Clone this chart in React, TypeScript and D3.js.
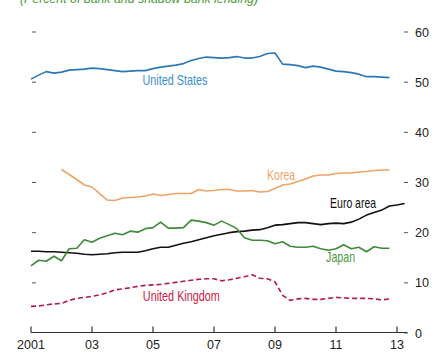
import * as d3 from "d3";

const usValues = [
  50.6, 51.4, 52.1, 51.8, 52.0, 52.4, 52.5, 52.6, 52.8, 52.7, 52.5, 52.3,
  52.1, 52.2, 52.3, 52.3, 52.7, 53.0, 53.2, 53.4, 53.7, 54.3, 54.7, 55.0,
  54.9, 54.8, 54.9, 55.1, 54.8, 54.8, 55.1, 55.7, 55.8, 53.6, 53.5, 53.3,
  52.9, 53.2, 53.0, 52.6, 52.2, 52.1, 51.9, 51.6, 51.1, 51.1, 51.0, 50.9,
];

// Korea starts in 2002Q1
const koreaValues = [
  32.6, 31.6, 30.6, 29.5, 29.1, 27.8, 26.5, 26.4, 26.9, 27.0, 27.1, 27.3,
  27.7, 27.4, 27.6, 27.8, 27.8, 27.8, 28.6, 28.3, 28.4, 28.6, 28.6, 28.3,
  28.3, 28.4, 28.1, 28.2, 28.8, 29.5, 29.7, 30.2, 30.7, 31.3, 31.5, 31.5,
  31.8, 31.9, 31.9, 32.1, 32.2, 32.4, 32.5, 32.5,
];

// Euro area runs two quarters longer
const euroValues = [
  16.3, 16.3, 16.2, 16.2, 16.1, 16.0, 15.9, 15.7, 15.6, 15.7, 15.8, 16.0,
  16.1, 16.1, 16.1, 16.4, 16.8, 17.1, 17.1, 17.5, 17.9, 18.2, 18.6, 19.0,
  19.4, 19.7, 20.0, 20.2, 20.3, 20.5, 20.6, 21.0, 21.5, 21.6, 21.8, 22.0,
  22.0, 21.8, 21.6, 21.8, 21.9, 21.8, 22.1, 22.7, 23.5, 24.0, 24.5, 25.3,
  25.5, 25.8,
];

const japanValues = [
  13.4, 14.5, 14.3, 15.3, 14.4, 16.8, 16.9, 18.6, 18.1, 18.9, 19.4, 19.9,
  19.6, 20.3, 20.1, 20.8, 21.0, 22.1, 20.9, 20.9, 21.0, 22.5, 22.3, 22.0,
  21.5, 22.3, 21.6, 20.8, 19.0, 18.5, 18.5, 18.4, 17.8, 18.2, 17.3, 17.1,
  17.1, 17.3, 16.8, 16.5, 16.8, 17.6, 16.8, 17.1, 16.2, 17.2, 16.9, 16.9,
];

const ukValues = [
  5.3, 5.4, 5.6, 5.8, 5.9, 6.5, 6.9, 7.1, 7.3, 7.6, 8.0, 8.6,
  8.8, 9.0, 9.3, 9.5, 9.6, 9.7, 9.9, 10.1, 10.3, 10.5, 10.7, 10.8,
  10.8, 10.4, 10.6, 10.9, 11.2, 11.6, 10.9, 10.8, 10.2, 7.5, 6.5, 6.8,
  6.9, 6.7, 6.7, 6.9, 7.1, 7.0, 6.9, 6.9, 6.9, 6.8, 6.6, 6.8,
];

const yearTicks = [2001, 2003, 2005, 2007, 2009, 2011, 2013];
const yearLabels = ["2001", "03", "05", "07", "09", "11", "13"];
const valueTicks = [0, 10, 20, 30, 40, 50, 60];

const W = 440;
const H = 360;
const font = "'Liberation Sans', Arial, sans-serif";

type Series = {
  name: string;
  start: number;
  values: number[];
  color: string;
  dash?: string;
};

const series: Series[] = [
  { name: "United States", start: 2001, values: usValues, color: "#2b78b4" },
  { name: "Korea", start: 2002, values: koreaValues, color: "#eea466" },
  { name: "Euro area", start: 2001, values: euroValues, color: "#111111" },
  { name: "Japan", start: 2001, values: japanValues, color: "#3e8a38" },
  { name: "United Kingdom", start: 2001, values: ukValues, color: "#b51a4a", dash: "5,3" },
];

// labels set in a condensed face in the original, so squeeze them to width
const labels = [
  { text: "United States", t: 2005.72, v: 49.4, width: 65, color: "#3a8fd0" },
  { text: "Korea", t: 2009.2, v: 30.5, width: 28, color: "#eea466" },
  { text: "Euro area", t: 2011.56, v: 24.9, width: 46, color: "#111111" },
  { text: "Japan", t: 2011.15, v: 14.2, width: 29, color: "#4c9a3c" },
  { text: "United Kingdom", t: 2005.93, v: 6.4, width: 77, color: "#cc2048" },
];

export default function App() {
  const x = d3.scaleLinear().domain([2001, 2013]).range([31, 397]);
  const y = d3.scaleLinear().domain([0, 60]).range([333, 32]);

  const line = d3
    .line<[number, number]>()
    .x((d) => x(d[0]))
    .y((d) => y(d[1]));

  return (
    <svg
      width={W}
      height={H}
      style={{ position: "absolute", left: 0, top: 0, background: "#fff" }}
      fontFamily={font}
    >
      <text
        x={20}
        y={3}
        fontStyle="italic"
        fontSize={13}
        fill="#4a9a3a"
        textLength={238}
        lengthAdjust="spacingAndGlyphs"
      >
        (Percent of bank and shadow bank lending)
      </text>

      {/* value ticks: short dashes both sides, labels on the right */}
      {valueTicks.map((v) => (
        <g key={v}>
          {v > 0 && (
            <line x1={32} x2={36} y1={y(v)} y2={y(v)} stroke="#555" strokeWidth={1} />
          )}
          <line x1={404} x2={408} y1={y(v)} y2={y(v)} stroke="#555" strokeWidth={1} />
          <text x={415} y={y(v)} dy="0.36em" fontSize={12.5} fill="#222">
            {v}
          </text>
        </g>
      ))}

      {/* x axis */}
      <line x1={31} x2={407} y1={332.5} y2={332.5} stroke="#333" strokeWidth={1.2} />
      {yearTicks.map((t, i) => (
        <g key={t}>
          <line x1={x(t)} x2={x(t)} y1={332.5} y2={326.5} stroke="#333" strokeWidth={1.2} />
          <text x={x(t)} y={349} textAnchor="middle" fontSize={12.5} fill="#222">
            {yearLabels[i]}
          </text>
        </g>
      ))}

      {series.map((s) => {
        const pts = s.values.map((v, i) => [s.start + i * 0.25, v] as [number, number]);
        return (
          <path
            key={s.name}
            d={line(pts) ?? ""}
            fill="none"
            stroke={s.color}
            strokeWidth={1.6}
            strokeDasharray={s.dash}
            strokeLinejoin="round"
          />
        );
      })}

      {labels.map((l) => (
        <text
          key={l.text}
          x={x(l.t) - l.width / 2}
          y={y(l.v)}
          fontSize={14.5}
          fill={l.color}
          textLength={l.width}
          lengthAdjust="spacingAndGlyphs"
        >
          {l.text}
        </text>
      ))}
    </svg>
  );
}
